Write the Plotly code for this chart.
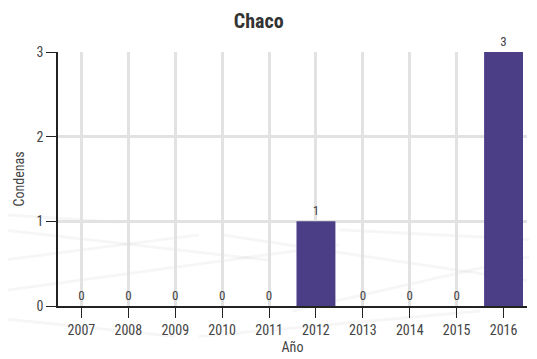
import plotly.graph_objects as go

years = ["2007", "2008", "2009", "2010", "2011", "2012", "2013", "2014", "2015", "2016"]
condenas = [0, 0, 0, 0, 0, 1, 0, 0, 0, 3]

FONT = "Roboto Condensed, Liberation Sans Narrow, Roboto"

fig = go.Figure()
fig.add_trace(go.Bar(
    x=years, y=condenas,
    marker=dict(color="#4c3d87", line=dict(width=0)),
    text=[str(v) for v in condenas], textposition="outside",
    textfont=dict(size=13, color="#444444", family=FONT),
    outsidetextfont=dict(size=13, color="#444444", family=FONT),
    cliponaxis=False, width=0.83,
))

# faint decorative background perspective lines
deco = [
    (-0.12, 0.36, 0.13, 0.33), (-0.12, 0.30, 0.45, 0.18), (-0.12, 0.18, 0.30, 0.28),
    (0.35, 0.28, 1.0, 0.10), (-0.12, 0.06, 0.6, 0.24), (0.5, -0.02, 1.02, 0.2),
    (-0.12, -0.05, 0.25, -0.12), (0.6, 0.30, 1.02, 0.26), (0.3, -0.12, 0.9, -0.02),
]
for x0, y0, x1, y1 in deco:
    fig.add_shape(type="line", xref="paper", yref="paper", x0=x0, y0=y0, x1=x1, y1=y1,
                  line=dict(color="rgba(0,0,0,0.035)", width=3), layer="below")

fig.update_layout(
    width=537, height=359,
    margin=dict(l=50, r=18, t=44, b=61, autoexpand=False),
    paper_bgcolor="white", plot_bgcolor="rgba(0,0,0,0)",
    font=dict(family=FONT, color="#333", size=14),
    title=dict(text="<b>Chaco</b>", x=0.467, xref="container", xanchor="center",
               y=0.964, yref="container", yanchor="middle",
               font=dict(size=20, color="#333", family=FONT)),
    showlegend=False,
    xaxis=dict(
        title=dict(text="Año", standoff=6, font=dict(size=14, color="#444")),
        automargin=False,
        showgrid=True, gridcolor="#e2e2e2", gridwidth=2.5,
        showline=True, linecolor="#222", linewidth=1.5,
        ticks="outside", ticklen=10, tickcolor="#222",
        tickfont=dict(size=14, color="#444"), range=[-0.5, 9.5],
    ),
    yaxis=dict(
        title=dict(text="Condenas", standoff=9, font=dict(size=14, color="#444")),
        automargin=False,
        showgrid=True, gridcolor="#e2e2e2", gridwidth=2.5, zeroline=False,
        showline=True, linecolor="#222", linewidth=1.5,
        ticks="outside", ticklen=10, tickcolor="#222",
        tickvals=[0, 1, 2, 3], range=[0, 3],
        tickfont=dict(size=14, color="#444"),
    ),
)

fig.write_html("out.html")
